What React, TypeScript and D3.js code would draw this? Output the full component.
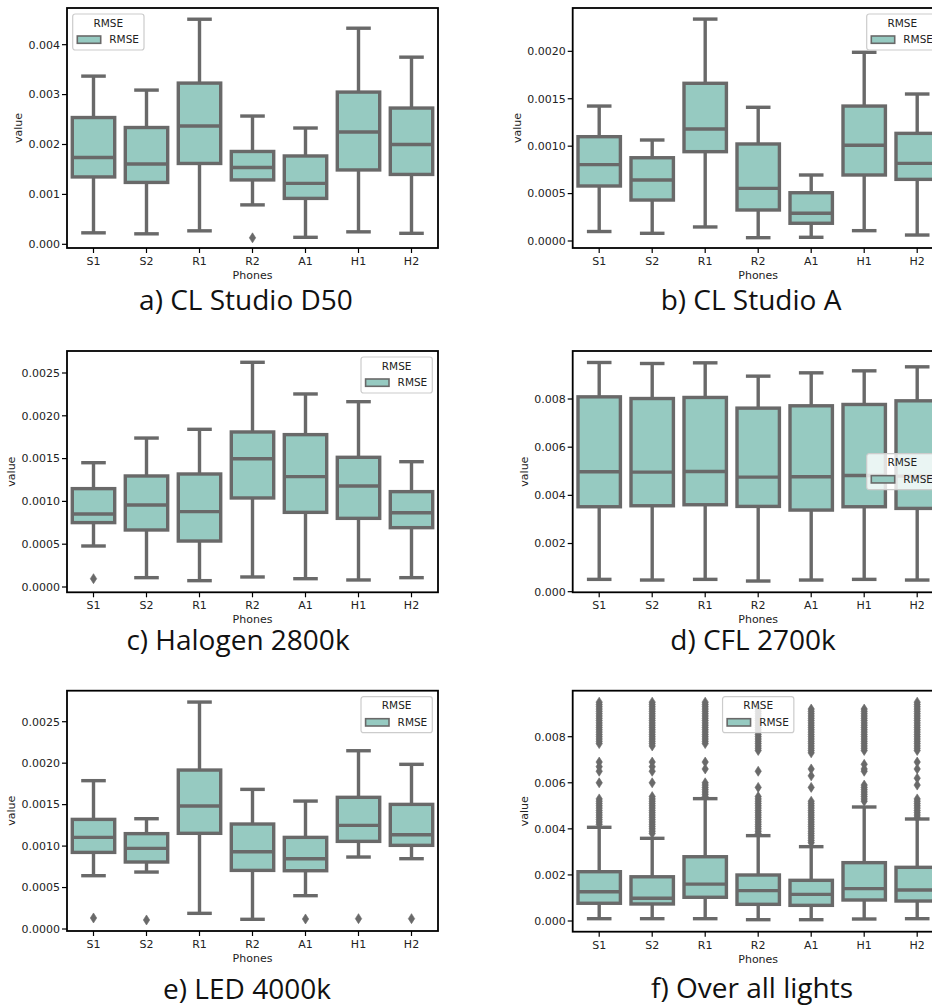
import React from 'react';
import * as d3 from 'd3';

const phones = ['S1', 'S2', 'R1', 'R2', 'A1', 'H1', 'H2'];

// each box: [lower whisker, Q1, median, Q3, upper whisker]
const boxesD50 = [
  [0.00023, 0.00135, 0.00174, 0.00254, 0.00337],
  [0.00021, 0.00124, 0.00161, 0.00234, 0.00309],
  [0.00027, 0.00162, 0.00237, 0.00323, 0.00451],
  [0.00079, 0.00129, 0.00154, 0.00186, 0.00257],
  [0.00014, 0.00092, 0.00122, 0.00177, 0.00233],
  [0.00025, 0.00149, 0.00225, 0.00305, 0.00433],
  [0.00022, 0.0014, 0.002, 0.00273, 0.00375],
];
const outliersD50 = [[], [], [], [0.00013], [], [], []];

const boxesStudioA = [
  [0.0001, 0.00058, 0.000805, 0.0011, 0.001423],
  [0.000081, 0.000432, 0.000643, 0.000878, 0.001065],
  [0.000148, 0.000942, 0.001181, 0.001663, 0.00234],
  [0.000035, 0.000327, 0.000555, 0.001023, 0.00141],
  [0.000039, 0.000187, 0.000292, 0.000509, 0.000696],
  [0.000109, 0.000696, 0.001009, 0.001423, 0.00199],
  [0.000063, 0.00065, 0.000819, 0.001135, 0.00155],
];
const outliersStudioA = [[], [], [], [], [], [], []];

const boxesHalogen = [
  [0.000479, 0.000752, 0.000853, 0.001149, 0.001452],
  [0.000109, 0.000666, 0.000958, 0.001297, 0.00174],
  [0.000074, 0.000537, 0.00088, 0.00132, 0.001842],
  [0.000117, 0.00104, 0.001499, 0.001811, 0.002625],
  [0.000097, 0.000872, 0.001289, 0.00178, 0.002255],
  [0.000082, 0.000802, 0.00118, 0.001515, 0.002165],
  [0.000109, 0.000693, 0.000868, 0.001114, 0.001464],
];
const outliersHalogen = [[0.000097], [], [], [], [], [], []];

const boxesCFL = [
  [0.000512, 0.003527, 0.00498, 0.00809, 0.009516],
  [0.000484, 0.003568, 0.004965, 0.00802, 0.009474],
  [0.000512, 0.00361, 0.004993, 0.008064, 0.009502],
  [0.000443, 0.003541, 0.004758, 0.007621, 0.008949],
  [0.000484, 0.003389, 0.004772, 0.007718, 0.009087],
  [0.000512, 0.003527, 0.004827, 0.007773, 0.00917],
  [0.000484, 0.003458, 0.0048, 0.007925, 0.009336],
];
const outliersCFL = [[], [], [], [], [], [], []];

const boxesLED = [
  [0.000643, 0.000924, 0.001105, 0.001322, 0.001789],
  [0.000687, 0.000808, 0.000973, 0.00115, 0.00133],
  [0.000189, 0.001154, 0.001483, 0.001917, 0.002737],
  [0.000117, 0.000707, 0.000932, 0.001266, 0.001684],
  [0.000402, 0.000703, 0.000848, 0.001105, 0.001543],
  [0.000868, 0.001057, 0.00125, 0.001588, 0.00215],
  [0.000848, 0.001009, 0.001137, 0.001503, 0.001986],
];
const outliersLED = [[0.000133], [0.000109], [], [], [0.000121], [0.000125], [0.000125]];

const boxesAll = [
  [0.000101, 0.00077, 0.00127, 0.00214, 0.004067],
  [0.000101, 0.00074, 0.000985, 0.00192, 0.003589],
  [0.000101, 0.00103, 0.0016, 0.00279, 0.005311],
  [0.000058, 0.000724, 0.001317, 0.001997, 0.003705],
  [0.000058, 0.00068, 0.001158, 0.001766, 0.003227],
  [0.000087, 0.000912, 0.001404, 0.002533, 0.004949],
  [0.000101, 0.000868, 0.001346, 0.00233, 0.004428],
];
const outliersAll = [
  [0.0095, 0.0094, 0.0093, 0.0092, 0.0091, 0.009, 0.0089, 0.0088, 0.0087, 0.0086, 0.0085, 0.0084, 0.0083, 0.0082, 0.0081, 0.008, 0.0079, 0.0078, 0.0077,
    0.0069, 0.0067, 0.0065, 0.006,
    0.0053, 0.0052, 0.0051, 0.005, 0.0049, 0.0048, 0.0047, 0.0046, 0.0045, 0.0044, 0.0043, 0.0042],
  [0.0095, 0.0094, 0.0093, 0.0092, 0.0091, 0.009, 0.0089, 0.0088, 0.0087, 0.0086, 0.0085, 0.0084, 0.0083, 0.0082, 0.0081, 0.008, 0.0079, 0.0078, 0.0077, 0.0076,
    0.0069, 0.0067, 0.0065, 0.006,
    0.0054, 0.0053, 0.0052, 0.0051, 0.005, 0.0049, 0.0048, 0.0047, 0.0046, 0.0045, 0.0044, 0.0043, 0.0042, 0.0041, 0.004, 0.0039, 0.0038],
  [0.0095, 0.0094, 0.0093, 0.0092, 0.0091, 0.009, 0.0089, 0.0088, 0.0087, 0.0086, 0.0085, 0.0084, 0.0083, 0.0082, 0.0081, 0.008, 0.0079, 0.0078, 0.0077,
    0.0069, 0.0066,
    0.006, 0.0059, 0.0058, 0.0057, 0.0056, 0.0055, 0.0054],
  [0.0092, 0.0091, 0.009, 0.0089, 0.0088, 0.0087, 0.0086, 0.0085, 0.0084, 0.0083, 0.0082, 0.0081, 0.008, 0.0079, 0.0078, 0.0077, 0.0076, 0.0075, 0.0074,
    0.0065, 0.0058,
    0.0054, 0.0053, 0.0052, 0.0051, 0.005, 0.0049, 0.0048, 0.0047, 0.0046, 0.0045, 0.0044, 0.0043, 0.0042, 0.0041, 0.004, 0.0039, 0.0038],
  [0.0092, 0.0091, 0.009, 0.0089, 0.0088, 0.0087, 0.0086, 0.0085, 0.0084, 0.0083, 0.0082, 0.0081, 0.008, 0.0079, 0.0078, 0.0077, 0.0076, 0.0075, 0.0074, 0.0073,
    0.0066, 0.0063, 0.0058,
    0.0052, 0.0051, 0.005, 0.0049, 0.0048, 0.0047, 0.0046, 0.0045, 0.0044, 0.0043, 0.0042, 0.0041, 0.004, 0.0039, 0.0038, 0.0037, 0.0036, 0.0035, 0.0034],
  [0.0092, 0.0091, 0.009, 0.0089, 0.0088, 0.0087, 0.0086, 0.0085, 0.0084, 0.0083, 0.0082, 0.0081, 0.008, 0.0079, 0.0078, 0.0077, 0.0076, 0.0075, 0.0074,
    0.0068, 0.0066, 0.0065,
    0.0059, 0.0058, 0.0057, 0.0056, 0.0055, 0.0054, 0.0053, 0.0052],
  [0.0095, 0.0094, 0.0093, 0.0092, 0.0091, 0.009, 0.0089, 0.0088, 0.0087, 0.0086, 0.0085, 0.0084, 0.0083, 0.0082, 0.0081, 0.008, 0.0079, 0.0078, 0.0077, 0.0076, 0.0075, 0.0074,
    0.0069, 0.0066, 0.0062, 0.0059,
    0.0053, 0.0052, 0.0051, 0.005, 0.0049, 0.0048, 0.0047, 0.0046, 0.0045],
];

const ticks3 = [0, 0.001, 0.002, 0.003, 0.004];
const ticksA = [0, 0.0005, 0.001, 0.0015, 0.002];
const ticks25 = [0, 0.0005, 0.001, 0.0015, 0.002, 0.0025];
const ticks8 = [0, 0.002, 0.004, 0.006, 0.008];

const FILL = '#96cac1';
const GRAY = '#696969';
const FONT = '"DejaVu Sans", sans-serif';
const W = 371;

type Legend = 'ul' | 'ur' | 'cr' | 'uc';

interface Panel {
  title: string;
  boxes: number[][];
  outliers: number[][];
  left: number;
  top: number;
  height: number;
  yMin: number;
  yMax: number;
  ticks: number[];
  fmt: string;
  legend: Legend;
  titleX: number;
  titleY: number;
}

const panels: Panel[] = [
  { title: 'a) CL Studio D50', boxes: boxesD50, outliers: outliersD50, left: 67, top: 8, height: 240,
    yMin: -0.000074, yMax: 0.004735, ticks: ticks3, fmt: '.3f', legend: 'ul', titleX: 246, titleY: 310 },
  { title: 'b) CL Studio A', boxes: boxesStudioA, outliers: outliersStudioA, left: 572.7, top: 8, height: 240,
    yMin: -0.0000738, yMax: 0.002457, ticks: ticksA, fmt: '.4f', legend: 'ur', titleX: 751, titleY: 310 },
  { title: 'c) Halogen 2800k', boxes: boxesHalogen, outliers: outliersHalogen, left: 67, top: 351, height: 241.3,
    yMin: -0.000062, yMax: 0.002757, ticks: ticks25, fmt: '.4f', legend: 'ur', titleX: 238, titleY: 650 },
  { title: 'd) CFL 2700k', boxes: boxesCFL, outliers: outliersCFL, left: 572.7, top: 351, height: 241.3,
    yMin: -0.000025, yMax: 0.009993, ticks: ticks8, fmt: '.3f', legend: 'cr', titleX: 753, titleY: 650 },
  { title: 'e) LED 4000k', boxes: boxesLED, outliers: outliersLED, left: 67, top: 690.7, height: 240.3,
    yMin: -0.000024, yMax: 0.002874, ticks: ticks25, fmt: '.4f', legend: 'ur', titleX: 247, titleY: 999 },
  { title: 'f) Over all lights', boxes: boxesAll, outliers: outliersAll, left: 572.7, top: 690.7, height: 241,
    yMin: -0.000464, yMax: 0.009997, ticks: ticks8, fmt: '.3f', legend: 'uc', titleX: 752, titleY: 998 },
];

const LW = 71.3;
const LH = 36;

function LegendBox({ p }: { p: Panel }) {
  let lx = p.left + 5.7;
  let ly = p.top + 6;
  if (p.legend === 'ur') lx = p.left + W - 5.7 - LW;
  if (p.legend === 'cr') {
    lx = p.left + W - 5.7 - LW;
    ly = p.top + p.height / 2 - LH / 2;
  }
  if (p.legend === 'uc') lx = p.left + W / 2 - LW / 2;
  return (
    <g transform={`translate(${lx},${ly})`} fontFamily={FONT} fontSize={10.5} fill="#222">
      <rect width={LW} height={LH} rx={2.5} fill="white" fillOpacity={0.8} stroke="#cccccc" strokeWidth={1.2} />
      <text x={LW / 2} y={12.7} textAnchor="middle">RMSE</text>
      <rect x={4.6} y={22} width={23.4} height={7.3} fill={FILL} stroke={GRAY} strokeWidth={1.6} />
      <text x={36.6} y={28.9}>RMSE</text>
    </g>
  );
}

function BoxPanel({ p }: { p: Panel }) {
  const x = d3.scaleBand<string>().domain(phones).range([p.left, p.left + W]).padding(0);
  const y = d3.scaleLinear().domain([p.yMin, p.yMax]).range([p.top + p.height, p.top]);
  const bw = x.bandwidth() * 0.8;
  const fmt = d3.format(p.fmt);
  const bottom = p.top + p.height;
  const labelOff = p.fmt === '.4f' ? 56 : 49;

  return (
    <g>
      {phones.map((ph, i) => {
        const [lo, q1, med, q3, hi] = p.boxes[i];
        const cx = (x(ph) as number) + x.bandwidth() / 2;
        return (
          <g key={ph} stroke={GRAY} strokeWidth={3.4}>
            <line x1={cx} x2={cx} y1={y(q3)} y2={y(hi)} />
            <line x1={cx} x2={cx} y1={y(q1)} y2={y(lo)} />
            <line x1={cx - bw / 4} x2={cx + bw / 4} y1={y(hi)} y2={y(hi)} strokeLinecap="square" />
            <line x1={cx - bw / 4} x2={cx + bw / 4} y1={y(lo)} y2={y(lo)} strokeLinecap="square" />
            <rect x={cx - bw / 2} y={y(q3)} width={bw} height={y(q1) - y(q3)} fill={FILL} />
            <line x1={cx - bw / 2} x2={cx + bw / 2} y1={y(med)} y2={y(med)} />
            {p.outliers[i].map((v, j) => (
              <path key={j} d="M0,-5 L3.2,0 L0,5 L-3.2,0 Z" transform={`translate(${cx},${y(v)})`}
                fill={GRAY} strokeWidth={0.6} />
            ))}
          </g>
        );
      })}
      <rect x={p.left} y={p.top} width={W} height={p.height} fill="none" stroke="#000" strokeWidth={1.8} />
      <g fontFamily={FONT} fontSize={11} fill="#222">
        {p.ticks.map((t) => (
          <g key={t}>
            <line x1={p.left - 5} x2={p.left} y1={y(t)} y2={y(t)} stroke="#000" strokeWidth={1.2} />
            <text x={p.left - 7} y={y(t)} dy="0.35em" textAnchor="end">{fmt(t)}</text>
          </g>
        ))}
        {phones.map((ph) => {
          const cx = (x(ph) as number) + x.bandwidth() / 2;
          return (
            <g key={ph}>
              <line x1={cx} x2={cx} y1={bottom} y2={bottom + 5} stroke="#000" strokeWidth={1.2} />
              <text x={cx} y={bottom + 17} textAnchor="middle">{ph}</text>
            </g>
          );
        })}
        <text x={p.left + W / 2} y={bottom + 31} textAnchor="middle">Phones</text>
        <text transform={`translate(${p.left - labelOff + 4},${p.top + p.height / 2}) rotate(-90)`} textAnchor="middle">value</text>
      </g>
      <LegendBox p={p} />
      <text x={p.titleX} y={p.titleY} textAnchor="middle" fontFamily='"Open Sans", sans-serif' fontSize={28} fill="#111">{p.title}</text>
    </g>
  );
}

export default function App() {
  return (
    <div style={{ position: 'absolute', left: 0, top: 0, width: 932, height: 1006, background: 'white' }}>
      <svg width={932} height={1006} viewBox="0 0 932 1006" style={{ display: 'block' }}>
        <rect width={932} height={1006} fill="white" />
        {panels.map((p) => <BoxPanel key={p.title} p={p} />)}
      </svg>
    </div>
  );
}
